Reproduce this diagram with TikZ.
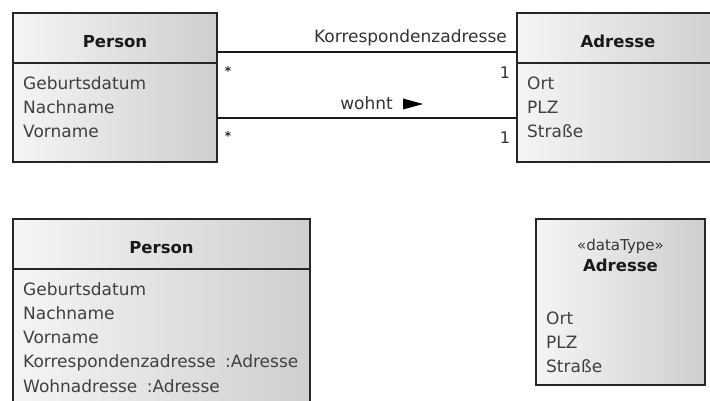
\documentclass[tikz,border=0pt]{standalone}
\usepackage{fontspec}
\setmainfont{DejaVu Sans}
\begin{document}
\begin{tikzpicture}[x=1pt,y=-1pt,
  cls/.style={draw=black!85,line width=1.1pt,left color=black!4,right color=black!19,
    anchor=north west,inner sep=0pt,outer sep=0pt},
  sep/.style={draw=black!85,line width=1.1pt},
  assoc/.style={draw=black!90,line width=1.1pt},
  hdr/.style={font=\fontsize{16.5}{19}\selectfont\bfseries,text=black!90,inner sep=0pt,
    text height=12pt,text depth=0.5pt},
  attr/.style={font=\fontsize{17}{19}\selectfont,text=black!75,anchor=west,inner sep=0pt,
    text height=12.5pt,text depth=0.5pt},
  lbl/.style={font=\fontsize{17}{19}\selectfont,text=black!80,inner sep=0pt,
    text height=12.5pt,text depth=0.5pt},
  mult/.style={font=\fontsize{16}{18}\selectfont,text=black!80,inner sep=0pt},
  star/.style={font=\fontsize{12}{12}\selectfont\bfseries,text=black!85,inner sep=0pt}]
\useasboundingbox (0,0) rectangle (710,401);
\fill[white] (0,0) rectangle (710,401);

% top Person
\node[cls,minimum width=204pt,minimum height=149pt] (p1) at (13,13) {};
\draw[sep] (13,63) -- (217,63);
\node[hdr] (p1h) at (115,42) {Person};
\node[attr] (p1a) at (23,84) {Geburtsdatum};
\node[attr] (p1b) at (23,108) {Nachname};
\node[attr] (p1c) at (23,132) {Vorname};

% top Adresse
\node[cls,minimum width=210pt,minimum height=149pt] (a1) at (517,13) {};
\draw[sep] (517,63) -- (727,63);
\node[hdr] (a1h) at (618,42) {Adresse};
\node[attr] (a1a) at (527,84) {Ort};
\node[attr] (a1b) at (527,108) {PLZ};
\node[attr] (a1c) at (527,132) {Straße};

% associations
\draw[assoc] ([yshift=-39pt]p1.north east) -- ([yshift=-39pt]a1.north west);
\draw[assoc] ([yshift=-105pt]p1.north east) -- ([yshift=-105pt]a1.north west);
\node[lbl,anchor=east] (k) at (507,37) {Korrespondenzadresse};
\node[lbl,anchor=east] (w) at (393,104) {wohnt};
\fill[black] (403,98.5) -- (423,104) -- (403,109.5) -- cycle;
\node[star] (s1) at (228,71) {*};
\node[star] (s2) at (228,136) {*};
\node[mult] (m1) at (505,73) {1};
\node[mult] (m2) at (505,138) {1};

% bottom Person
\node[cls,minimum width=297pt,minimum height=200pt] (p2) at (13,219) {};
\draw[sep] (13,269) -- (310,269);
\node[hdr] (p2h) at (161.5,248) {Person};
\node[attr] (p2a) at (23,289) {Geburtsdatum};
\node[attr] (p2b) at (23,313) {Nachname};
\node[attr] (p2c) at (23,337) {Vorname};
\node[attr] (p2d) at (23,361) {Korrespondenzadresse\hspace{0.55em}:Adresse};
\node[attr] (p2e) at (23,386) {Wohnadresse\hspace{0.55em}:Adresse};

% bottom Adresse (dataType)
\node[cls,minimum width=169pt,minimum height=166pt] (a2) at (536,219) {};
\node[lbl,font=\fontsize{15}{17}\selectfont,text=black!80] (a2s) at (620.5,245) {«dataType»};
\node[hdr] (a2h) at (620.5,266) {Adresse};
\node[attr] (a2a) at (546,318) {Ort};
\node[attr] (a2b) at (546,342) {PLZ};
\node[attr] (a2c) at (546,366) {Straße};
\end{tikzpicture}
\end{document}
